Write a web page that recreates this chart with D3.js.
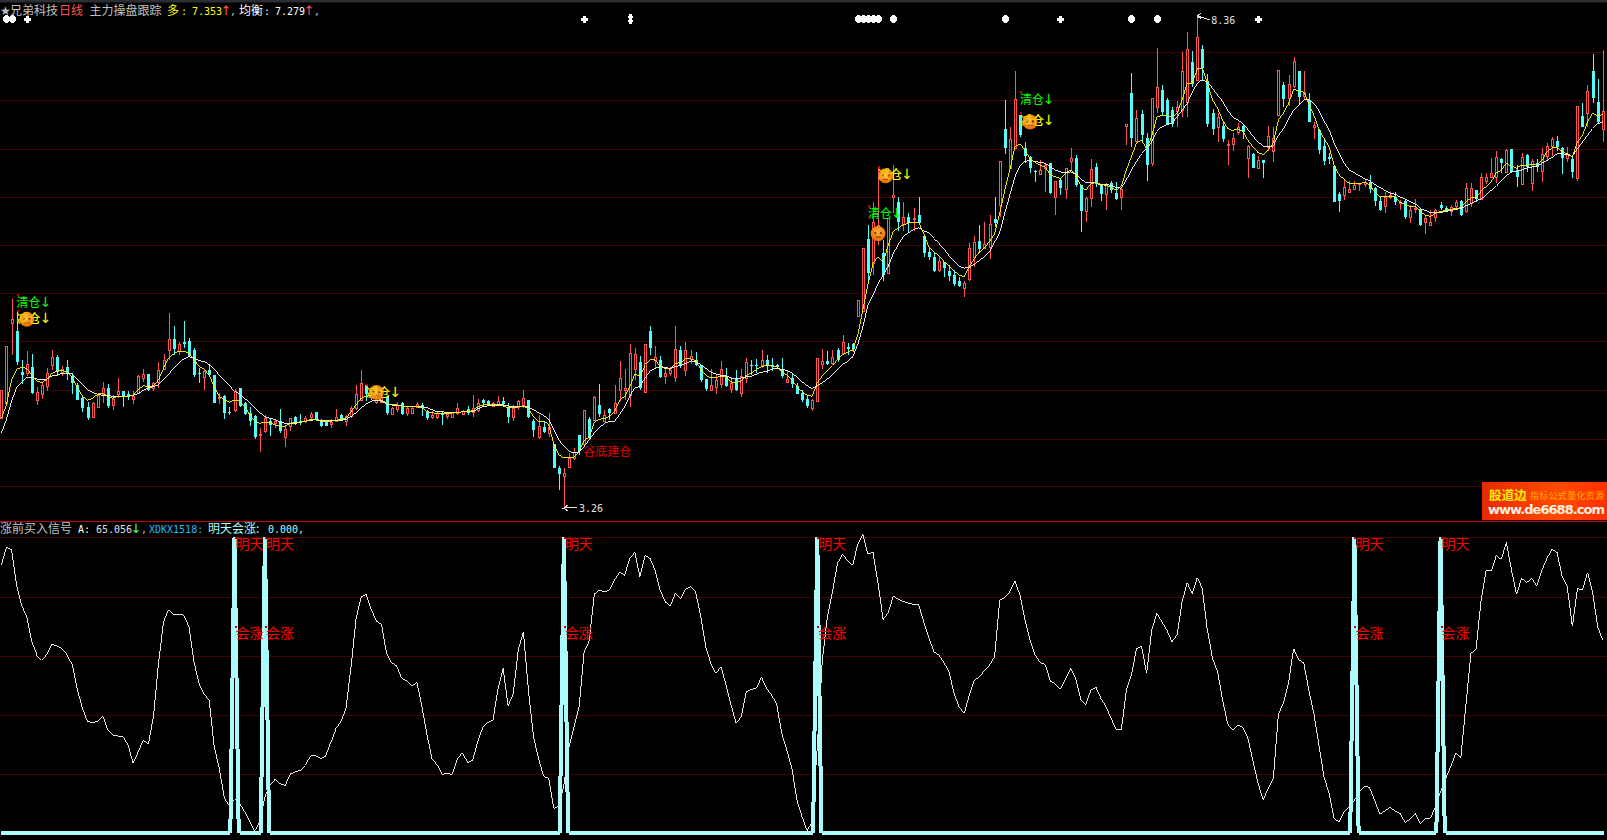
<!DOCTYPE html>
<html><head><meta charset="utf-8">
<style>html,body{margin:0;padding:0;background:#000;overflow:hidden}svg{display:block}</style>
<script src="https://cdn.jsdelivr.net/npm/d3@7"></script></head><body>
<script>
const highs=[4.48,4.93,5.42,5.29,4.79,4.88,4.85,4.51,4.56,4.70,4.89,4.84,4.72,4.79,4.65,4.55,4.42,4.35,4.35,4.44,
4.56,4.54,4.42,4.60,4.46,4.46,4.46,4.63,4.69,4.64,4.56,4.77,4.85,5.27,5.14,4.97,5.19,5.02,4.91,4.70,
4.69,4.73,4.63,4.44,4.42,4.30,4.49,4.49,4.35,4.30,4.22,4.08,4.22,4.18,4.17,4.28,4.10,4.18,4.21,4.23,
4.21,4.25,4.25,4.17,4.16,4.17,4.28,4.23,4.22,4.31,4.53,4.68,4.54,4.51,4.41,4.41,4.41,4.30,4.35,4.35,
4.31,4.30,4.35,4.34,4.27,4.26,4.25,4.25,4.24,4.25,4.34,4.27,4.31,4.42,4.38,4.38,4.37,4.35,4.41,4.40,
4.34,4.32,4.37,4.48,4.37,4.17,4.22,4.14,4.24,3.91,3.69,3.66,3.82,3.87,4.01,4.27,4.19,4.41,4.54,4.27,
4.29,4.53,4.78,4.69,4.95,4.91,4.83,4.95,5.14,4.93,4.83,4.70,4.71,5.14,4.93,4.97,4.89,4.87,4.74,4.59,
4.69,4.63,4.78,4.70,4.61,4.68,4.69,4.81,4.79,4.80,4.89,4.84,4.81,4.75,4.81,4.67,4.65,4.55,4.48,4.41,
4.38,4.81,4.90,4.88,4.89,4.91,5.05,4.96,4.96,5.41,5.95,6.19,6.43,6.78,6.03,6.26,6.81,6.48,6.43,6.31,
6.37,6.48,6.08,5.95,5.91,5.86,5.81,5.77,5.72,5.65,5.61,6.00,6.08,6.19,6.22,6.29,6.48,6.85,7.49,7.21,
7.79,7.33,7.05,6.91,6.76,6.86,6.83,6.83,6.65,6.67,6.78,6.99,6.92,6.60,6.48,6.87,6.83,6.62,6.63,6.65,
6.64,6.58,7.24,7.77,7.38,7.38,7.14,7.51,8.03,7.64,7.51,7.41,7.48,7.99,8.19,8.00,8.36,8.06,7.76,7.39,
7.35,7.26,7.07,7.14,7.25,7.23,7.02,6.94,6.91,6.86,7.22,7.21,7.80,7.67,7.75,7.93,7.79,7.79,7.56,7.26,
7.19,7.08,6.94,6.81,6.53,6.66,6.65,6.65,6.63,6.66,6.71,6.58,6.48,6.53,6.53,6.53,6.45,6.45,6.40,6.46,
6.37,6.29,6.34,6.36,6.43,6.39,6.40,6.45,6.45,6.63,6.63,6.55,6.73,6.73,6.89,6.96,6.88,6.98,6.98,6.81,
6.94,6.93,6.87,6.87,6.99,7.04,7.10,7.11,7.00,7.00,6.91,7.43,7.46,7.64,7.97,7.71,8.01];
const lows=[4.18,4.34,4.84,4.74,4.54,4.62,4.43,4.32,4.38,4.46,4.68,4.62,4.62,4.58,4.43,4.37,4.25,4.16,4.18,4.29,
4.34,4.29,4.27,4.39,4.30,4.37,4.33,4.44,4.56,4.46,4.46,4.50,4.69,4.79,4.84,4.84,4.91,4.82,4.61,4.55,
4.48,4.62,4.34,4.33,4.17,4.22,4.25,4.30,4.22,4.10,3.97,3.83,4.03,4.00,4.08,4.03,3.88,4.05,4.11,4.11,
4.13,4.17,4.15,4.09,4.10,4.08,4.15,4.15,4.10,4.18,4.27,4.37,4.36,4.37,4.33,4.34,4.22,4.22,4.25,4.22,
4.21,4.23,4.29,4.21,4.16,4.17,4.17,4.11,4.17,4.18,4.22,4.22,4.22,4.20,4.25,4.31,4.31,4.30,4.31,4.31,
4.13,4.15,4.27,4.29,4.18,3.99,3.97,4.03,3.99,3.66,3.44,3.26,3.68,3.75,3.80,3.90,3.96,4.15,4.20,4.15,
4.16,4.24,4.36,4.37,4.30,4.58,4.48,4.44,4.84,4.70,4.60,4.54,4.62,4.56,4.70,4.62,4.75,4.72,4.56,4.47,
4.47,4.43,4.50,4.51,4.44,4.47,4.40,4.55,4.63,4.65,4.70,4.65,4.67,4.69,4.60,4.56,4.50,4.43,4.35,4.29,
4.26,4.36,4.69,4.74,4.73,4.77,4.84,4.84,4.87,5.24,5.30,5.60,5.67,5.98,5.61,5.69,6.31,6.13,6.13,6.11,
6.13,6.21,5.86,5.83,5.70,5.70,5.65,5.61,5.56,5.54,5.44,5.61,5.75,5.90,5.94,5.84,6.17,6.27,6.93,6.77,
6.99,7.10,6.83,6.73,6.64,6.71,6.53,6.51,6.29,6.50,6.46,6.76,6.58,6.12,6.22,6.38,6.58,6.44,6.35,6.52,
6.45,6.35,7.02,7.00,7.04,7.05,6.65,6.80,7.35,7.33,7.24,7.21,7.21,7.31,7.31,7.62,7.69,7.69,7.21,7.12,
7.05,7.05,6.81,6.96,7.12,7.08,6.68,6.78,6.78,6.68,6.96,6.84,7.32,7.41,7.42,7.61,7.44,7.49,7.26,7.08,
6.93,6.81,6.82,6.43,6.32,6.45,6.52,6.55,6.54,6.58,6.52,6.39,6.33,6.31,6.46,6.40,6.35,6.25,6.21,6.31,
6.18,6.10,6.18,6.22,6.35,6.32,6.28,6.35,6.28,6.31,6.38,6.43,6.45,6.62,6.68,6.63,6.73,6.73,6.73,6.58,
6.62,6.74,6.54,6.74,6.64,6.86,6.91,6.96,6.72,6.84,6.68,6.65,7.21,7.21,7.46,7.25,7.05];
const opens=[4.18,4.34,5.17,5.09,4.66,4.65,4.71,4.37,4.43,4.52,4.73,4.82,4.66,4.71,4.62,4.53,4.39,4.30,4.20,4.30,
4.43,4.50,4.32,4.43,4.46,4.43,4.38,4.44,4.60,4.64,4.50,4.56,4.69,4.89,5.00,4.88,4.97,4.98,4.89,4.65,
4.61,4.68,4.63,4.39,4.41,4.25,4.27,4.50,4.34,4.24,4.21,4.01,4.05,4.15,4.13,4.15,3.99,4.10,4.19,4.15,
4.15,4.19,4.25,4.15,4.15,4.12,4.15,4.22,4.15,4.21,4.29,4.37,4.53,4.44,4.35,4.35,4.41,4.23,4.28,4.34,
4.24,4.24,4.30,4.32,4.25,4.19,4.19,4.24,4.21,4.20,4.24,4.23,4.28,4.25,4.27,4.37,4.36,4.31,4.33,4.36,
4.30,4.19,4.30,4.32,4.37,4.15,3.99,4.09,4.03,3.91,3.66,3.58,3.68,3.77,4.01,3.91,4.17,4.16,4.32,4.15,
4.28,4.24,4.48,4.48,4.42,4.69,4.77,4.45,5.09,4.79,4.79,4.62,4.65,4.61,4.89,4.68,4.80,4.79,4.73,4.59,
4.48,4.51,4.54,4.61,4.49,4.59,4.44,4.60,4.73,4.73,4.73,4.79,4.73,4.73,4.69,4.56,4.60,4.52,4.44,4.38,
4.29,4.36,4.75,4.78,4.76,4.89,4.86,4.92,4.95,5.24,5.30,6.04,5.79,6.03,5.90,5.69,6.48,6.43,6.20,6.27,
6.25,6.29,6.08,5.91,5.86,5.72,5.80,5.71,5.67,5.61,5.53,5.63,5.86,6.02,5.95,5.96,6.25,6.40,7.19,6.78,
6.99,7.33,6.99,6.90,6.75,6.72,6.78,6.83,6.48,6.66,6.56,6.85,6.89,6.60,6.33,6.47,6.79,6.59,6.51,6.63,
6.52,6.48,7.22,7.56,7.06,7.34,7.09,6.83,7.41,7.59,7.49,7.38,7.37,7.38,7.47,7.88,7.70,8.02,7.69,7.35,
7.21,7.22,7.02,7.03,7.15,7.22,6.89,6.93,6.78,6.86,7.00,6.96,7.33,7.64,7.51,7.63,7.79,7.53,7.49,7.21,
7.18,7.01,6.90,6.80,6.51,6.50,6.53,6.56,6.62,6.61,6.64,6.57,6.44,6.39,6.48,6.48,6.42,6.44,6.27,6.36,
6.36,6.22,6.19,6.27,6.40,6.37,6.33,6.39,6.44,6.33,6.42,6.55,6.46,6.65,6.69,6.69,6.87,6.74,6.98,6.76,
6.62,6.92,6.63,6.83,6.75,6.91,7.01,7.06,6.99,6.89,6.87,6.68,7.32,7.35,7.79,7.47,7.19];
const closes=[4.48,4.93,5.21,4.77,4.63,4.75,4.44,4.45,4.53,4.65,4.82,4.66,4.69,4.65,4.55,4.37,4.29,4.18,4.34,4.42,
4.50,4.31,4.38,4.47,4.41,4.41,4.41,4.62,4.64,4.48,4.55,4.68,4.79,5.00,4.90,4.95,4.95,4.83,4.63,4.64,
4.67,4.63,4.34,4.40,4.24,4.24,4.46,4.31,4.23,4.15,3.99,4.02,4.18,4.11,4.15,4.05,4.07,4.18,4.13,4.13,
4.18,4.23,4.16,4.10,4.10,4.14,4.19,4.16,4.21,4.29,4.43,4.55,4.43,4.39,4.37,4.39,4.24,4.29,4.32,4.23,
4.29,4.29,4.33,4.29,4.18,4.22,4.24,4.22,4.23,4.24,4.29,4.26,4.24,4.29,4.34,4.34,4.33,4.34,4.36,4.33,
4.19,4.29,4.36,4.39,4.19,4.06,4.10,4.04,4.09,3.66,3.60,3.61,3.77,3.83,3.84,4.27,3.98,4.40,4.23,4.22,
4.24,4.34,4.60,4.50,4.86,4.85,4.50,4.95,4.91,4.82,4.61,4.65,4.68,4.90,4.73,4.89,4.83,4.74,4.58,4.49,
4.53,4.58,4.69,4.52,4.55,4.48,4.62,4.77,4.72,4.72,4.79,4.73,4.71,4.71,4.62,4.59,4.54,4.43,4.37,4.31,
4.37,4.81,4.78,4.75,4.82,4.79,4.97,4.90,4.90,5.41,5.95,5.69,6.22,6.19,5.67,6.26,6.50,6.22,6.27,6.21,
6.26,6.21,5.90,5.86,5.71,5.82,5.74,5.66,5.58,5.56,5.59,5.95,6.01,5.94,5.99,6.20,6.21,6.85,6.99,7.08,
7.50,7.12,6.91,6.78,6.74,6.76,6.81,6.52,6.65,6.57,6.78,6.89,6.60,6.33,6.47,6.77,6.62,6.51,6.62,6.55,
6.46,6.56,7.24,7.09,7.30,7.12,6.81,7.51,7.62,7.36,7.24,7.24,7.41,7.79,8.02,7.65,8.14,7.82,7.24,7.19,
7.31,7.08,7.03,7.09,7.21,7.15,7.01,6.78,6.86,6.83,7.11,7.09,7.80,7.50,7.65,7.89,7.52,7.57,7.26,7.23,
6.97,6.85,6.87,6.43,6.44,6.58,6.56,6.60,6.63,6.64,6.56,6.44,6.35,6.48,6.50,6.43,6.43,6.27,6.35,6.37,
6.19,6.26,6.22,6.35,6.37,6.33,6.38,6.43,6.29,6.57,6.57,6.46,6.69,6.69,6.73,6.90,6.83,6.97,6.74,6.69,
6.90,6.79,6.85,6.79,6.93,7.01,7.08,7.00,6.89,6.93,6.74,7.43,7.21,7.58,7.51,7.26,7.37];
const maFast=[4.18,4.32,4.58,4.69,4.71,4.70,4.63,4.57,4.55,4.59,4.65,4.67,4.68,4.66,4.60,4.50,4.41,4.37,4.39,4.43,
4.44,4.41,4.39,4.41,4.41,4.41,4.42,4.48,4.52,4.51,4.52,4.58,4.70,4.81,4.85,4.88,4.88,4.86,4.79,4.72,
4.69,4.63,4.51,4.41,4.37,4.35,4.37,4.36,4.30,4.22,4.15,4.13,4.14,4.14,4.11,4.10,4.10,4.13,4.14,4.14,
4.15,4.17,4.17,4.15,4.15,4.15,4.16,4.17,4.18,4.25,4.32,4.39,4.41,4.42,4.40,4.37,4.34,4.32,4.32,4.31,
4.30,4.30,4.30,4.29,4.25,4.24,4.23,4.23,4.23,4.24,4.24,4.25,4.25,4.26,4.30,4.32,4.32,4.33,4.32,4.31,
4.29,4.29,4.30,4.31,4.28,4.20,4.15,4.15,4.12,3.91,3.80,3.77,3.77,3.78,3.84,3.95,3.99,4.14,4.17,4.18,
4.20,4.25,4.37,4.41,4.51,4.64,4.62,4.74,4.79,4.79,4.72,4.70,4.69,4.75,4.76,4.80,4.80,4.78,4.69,4.63,
4.60,4.60,4.62,4.61,4.56,4.55,4.57,4.63,4.65,4.69,4.72,4.73,4.73,4.72,4.67,4.63,4.58,4.51,4.46,4.42,
4.41,4.55,4.62,4.68,4.73,4.79,4.84,4.87,4.89,5.05,5.31,5.57,5.79,5.86,5.80,5.98,6.12,6.16,6.19,6.21,
6.22,6.22,6.10,5.96,5.91,5.87,5.81,5.76,5.71,5.67,5.65,5.76,5.84,5.91,5.95,6.02,6.10,6.31,6.55,6.76,
7.00,7.03,6.97,6.87,6.84,6.81,6.79,6.71,6.69,6.67,6.73,6.76,6.71,6.60,6.55,6.62,6.63,6.61,6.60,6.58,
6.55,6.59,6.76,6.90,7.04,7.07,6.98,7.11,7.31,7.33,7.33,7.31,7.35,7.49,7.66,7.66,7.81,7.82,7.66,7.49,
7.40,7.28,7.19,7.17,7.19,7.16,7.07,7.00,6.94,6.92,6.97,7.04,7.28,7.35,7.45,7.60,7.58,7.57,7.45,7.33,
7.18,7.09,7.00,6.81,6.71,6.66,6.62,6.62,6.62,6.63,6.61,6.53,6.48,6.48,6.49,6.48,6.43,6.40,6.38,6.38,
6.33,6.29,6.28,6.31,6.33,6.34,6.35,6.36,6.37,6.43,6.47,6.47,6.54,6.59,6.64,6.73,6.76,6.83,6.80,6.78,
6.81,6.81,6.82,6.81,6.86,6.95,6.99,6.99,6.95,6.93,6.90,7.05,7.12,7.26,7.35,7.32,7.34];
const maSlow=[4.03,4.17,4.36,4.50,4.56,4.61,4.61,4.59,4.58,4.59,4.62,4.63,4.65,4.65,4.64,4.58,4.53,4.48,4.45,4.43,
4.42,4.42,4.41,4.41,4.41,4.41,4.42,4.44,4.47,4.50,4.51,4.53,4.58,4.64,4.70,4.75,4.80,4.82,4.81,4.78,
4.77,4.74,4.69,4.63,4.58,4.52,4.46,4.43,4.39,4.34,4.29,4.24,4.20,4.18,4.17,4.14,4.13,4.13,4.13,4.14,
4.15,4.16,4.17,4.16,4.16,4.16,4.16,4.16,4.17,4.20,4.24,4.29,4.33,4.36,4.37,4.36,4.33,4.32,4.31,4.31,
4.30,4.30,4.30,4.30,4.29,4.27,4.25,4.25,4.24,4.24,4.24,4.25,4.25,4.25,4.28,4.30,4.31,4.31,4.32,4.32,
4.31,4.30,4.30,4.31,4.30,4.27,4.24,4.21,4.17,4.06,3.96,3.89,3.84,3.82,3.83,3.89,3.96,4.03,4.08,4.13,
4.15,4.15,4.22,4.30,4.41,4.50,4.51,4.60,4.67,4.70,4.72,4.71,4.70,4.72,4.73,4.75,4.78,4.77,4.74,4.70,
4.66,4.64,4.63,4.62,4.60,4.59,4.60,4.61,4.62,4.64,4.66,4.67,4.69,4.70,4.69,4.68,4.65,4.61,4.56,4.52,
4.49,4.52,4.55,4.59,4.63,4.69,4.74,4.77,4.82,4.95,5.13,5.36,5.46,5.58,5.67,5.76,5.89,5.99,6.07,6.11,
6.14,6.16,6.13,6.11,6.05,6.00,5.94,5.87,5.81,5.76,5.74,5.75,5.78,5.82,5.86,5.91,6.01,6.11,6.31,6.50,
6.69,6.80,6.85,6.86,6.85,6.84,6.83,6.79,6.76,6.74,6.73,6.74,6.72,6.67,6.63,6.63,6.63,6.60,6.61,6.60,
6.58,6.57,6.66,6.76,6.85,6.93,6.98,7.05,7.16,7.21,7.23,7.25,7.31,7.38,7.45,7.57,7.66,7.70,7.67,7.61,
7.54,7.47,7.38,7.31,7.28,7.24,7.18,7.11,7.05,7.01,7.00,7.01,7.12,7.19,7.29,7.38,7.43,7.49,7.49,7.45,
7.38,7.27,7.18,7.04,6.93,6.83,6.76,6.73,6.70,6.67,6.65,6.61,6.58,6.55,6.52,6.51,6.48,6.46,6.43,6.41,
6.36,6.34,6.32,6.32,6.32,6.33,6.34,6.35,6.36,6.39,6.41,6.44,6.46,6.50,6.55,6.59,6.65,6.70,6.74,6.75,
6.76,6.78,6.79,6.80,6.83,6.86,6.89,6.93,6.93,6.92,6.90,6.98,7.05,7.12,7.19,7.24,7.26];
const signalA=[90.5,96.5,95.8,83.7,77,73,64.6,60.3,58.4,60.4,63.8,63.1,62.3,60.1,56.7,48.3,42.1,37.6,37.4,37.6,
39.6,34.8,33.1,32.8,32.5,29.7,23.5,27.4,31.4,29.9,39.3,57.3,71.4,75.5,73.8,73.8,73.6,69.7,57.8,50.5,
46.9,44.9,29.1,21.8,11.7,9.1,11.3,10,7.2,3.8,0.7,3.8,12.2,16.2,18.1,16.7,16,19.9,20.7,21.2,
22.9,26.1,26,25.2,26,30.8,35.3,37.6,42.1,56.2,72.5,79.8,80.6,75.5,71.6,70.5,60.7,57.5,56.5,52.2,
51.4,49.7,50.9,42.6,33.1,24.9,23,19.8,20.1,19.8,25.2,27.1,23.8,24.6,30.8,35.7,37.4,38.1,48.8,55.6,
42.9,47.1,61.8,68,48.3,32.5,25.2,19.2,18.4,8.3,9.1,16.2,29.1,35.9,42.6,61.2,64.9,80.7,82,81.5,
82,85.4,88.2,87.1,92.8,94.8,86.6,93.7,92.8,88.8,82,78.1,76.7,80.9,79.2,82.6,83.4,81.5,73.1,62.9,
57.3,53.9,56.2,50,43.2,37,39.3,47.7,48.5,49,52.6,48.8,46.6,43.4,33.6,28,21.8,11.1,5.5,0.8,
3.8,29.1,58.4,73.1,81.5,91.1,94.1,92,90.5,97.6,100.9,94.2,94.8,84.3,72.1,74.4,80,78.9,78.2,77.6,
77.3,77.2,71.4,66.3,61.2,60.1,57.5,54.5,47.1,42.6,40.4,46.6,51.6,52.8,54.8,56.7,59.5,78.7,79.6,81.5,
85.2,80.4,71.9,65.2,60.1,57.5,56.9,51.3,50.3,48.6,52.2,55.6,52.2,45.1,43.4,48.3,49.2,45.4,42.6,38.7,
34.8,34.8,48.3,53.3,62.3,63.1,53.9,68.5,74.2,71.4,68.5,64.6,66.9,78.1,84.6,80.9,86.3,82.6,68.5,59,
54.5,44.9,36.8,34.8,36.5,35.7,31.9,24.1,16.7,11.3,15,18.4,40.1,44,50.5,62.3,58.6,57.5,48.3,40.4,
29.7,19,13.4,4.9,3.8,7.2,8.9,11.1,13.9,15.9,15.3,11.1,6.4,7.4,8.6,7.5,6.6,3.6,4.6,6.6,
3.2,4.9,4.9,8.9,13.9,18.4,22.4,26.9,25.5,43.2,60.7,62,78.7,88.8,88.5,93.7,92.4,98.2,88.8,80.7,
86,84.6,86,83.5,88.8,92.8,95.8,94.8,86.6,83.2,70,82.6,82,88,81.5,69.7,65.1];
const spikeDays=[46,52,111,161,267,284];
const gridPrices=[7.983,7.484,6.975,6.477,5.978,5.479,4.981,4.472,3.969,3.475];
const gridSignal=[100,79.7,59.9,39.8,19.8];
const plusDays=[5,115,209,248];
const dotDays=[1,2,169,170,171,172,173,176,198,223,228];
const tallDays=[124];
const sellFlags=[{t:"清仓",d:3,p:5.47,c:"#00ff00"},{t:"减仓",d:3,p:5.31,c:"#ffff00"},{t:"减仓",d:72,p:4.54,c:"#ffff00"},{t:"清仓",d:171,p:6.40,c:"#00ff00"},{t:"减仓",d:173,p:6.80,c:"#ffff00"},{t:"清仓",d:201,p:7.58,c:"#00ff00"},{t:"减仓",d:201,p:7.36,c:"#ffff00"}];
const faceSpots=[{d:5,p:5.21},{d:74,p:4.45},{d:174.5,p:6.70},{d:173,p:6.10},{d:203,p:7.26}];

const W=1607,H=840,FONT='"Noto Sans CJK SC","Noto Sans",sans-serif',MONO='"DejaVu Sans Mono",monospace',AR='"DejaVu Sans"';
const RED="#ff5454",CYAN="#54fcfc";
const svg=d3.select("body").append("svg").attr("width",W).attr("height",H).style("background","#000");
const defs=svg.append("defs");
const fg=defs.append("radialGradient").attr("id","face").attr("cx","50%").attr("cy","40%").attr("r","60%");
fg.append("stop").attr("offset","0%").attr("stop-color","#ffb040");
fg.append("stop").attr("offset","100%").attr("stop-color","#e86a00");
const lg=defs.append("linearGradient").attr("id","logo").attr("x1","0").attr("x2","1").attr("y1","0").attr("y2","0");
lg.append("stop").attr("offset","0%").attr("stop-color","#e82a00");
lg.append("stop").attr("offset","60%").attr("stop-color","#ff4a00");
lg.append("stop").attr("offset","100%").attr("stop-color","#ff3000");

const n=closes.length;
const x=d3.scaleLinear().domain([0,n-1]).range([1.4,1602.7]);
const yP=d3.scaleLinear().domain([3.26,8.36]).range([507,16]);
const yS=d3.scaleLinear().domain([0,100]).range([833,537]);
const px=i=>Math.round(x(i));
const crisp=g=>g.attr("shape-rendering","crispEdges");

svg.append("rect").attr("x",0).attr("y",0).attr("width",W).attr("height",2.5).attr("fill","#2b2f33");
const grid=crisp(svg.append("g")).attr("fill","#440000");
grid.selectAll(".p").data(gridPrices).join("rect").attr("class","p").attr("x",0).attr("width",W).attr("height",1).attr("y",d=>Math.round(yP(d)));
grid.selectAll(".s").data(gridSignal).join("rect").attr("class","s").attr("x",0).attr("width",W).attr("height",1).attr("y",d=>Math.round(yS(d)));
crisp(svg.append("rect")).attr("x",0).attr("y",521).attr("width",W).attr("height",1).attr("fill","#c80000");

const days=d3.range(n);
const candles=crisp(svg.append("g"));
candles.selectAll(".w").data(days).join("rect").attr("class","w").attr("x",px).attr("width",1)
 .attr("y",i=>Math.round(yP(highs[i]))).attr("height",i=>Math.max(1,Math.round(yP(lows[i]))-Math.round(yP(highs[i]))))
 .attr("fill",i=>closes[i]>opens[i]?RED:CYAN);
candles.selectAll(".b").data(days).join("rect").attr("class","b")
 .attr("x",i=>closes[i]>opens[i]?px(i)-0.5:px(i)-1)
 .attr("width",i=>closes[i]>opens[i]?2:3)
 .attr("y",i=>{const t=Math.round(yP(Math.max(opens[i],closes[i])));return closes[i]>opens[i]?t+0.5:t;})
 .attr("height",i=>{const t=Math.round(yP(Math.max(opens[i],closes[i]))),b=Math.round(yP(Math.min(opens[i],closes[i])));return Math.max(1,b-t);})
 .attr("fill",i=>closes[i]>opens[i]?"#000":CYAN)
 .attr("stroke",i=>closes[i]>opens[i]?RED:"none").attr("stroke-width",1);

const lineP=d3.line().x((d,i)=>x(i)).y(d=>yP(d));
svg.append("path").datum(maSlow).attr("d",lineP).attr("fill","none").attr("stroke","#fff").attr("stroke-width",0.9).attr("shape-rendering","crispEdges");
svg.append("path").datum(maFast).attr("d",lineP).attr("fill","none").attr("stroke","#ffff00").attr("stroke-width",0.9).attr("shape-rendering","crispEdges");

// event marks along the top row
const marks=crisp(svg.append("g")).attr("fill","#fff");
plusDays.forEach(i=>{const c=px(i);marks.append("rect").attr("x",c-3).attr("y",17.5).attr("width",7).attr("height",3);marks.append("rect").attr("x",c-1).attr("y",15.5).attr("width",3).attr("height",7);});
dotDays.forEach(i=>{const c=px(i);marks.append("rect").attr("x",c-3).attr("y",17).attr("width",7).attr("height",4);marks.append("rect").attr("x",c-2).attr("y",16).attr("width",5).attr("height",6);marks.append("rect").attr("x",c-1).attr("y",15).attr("width",3).attr("height",8);});
tallDays.forEach(i=>{const c=px(i);marks.append("rect").attr("x",c-1).attr("y",14).attr("width",3).attr("height",10);marks.append("rect").attr("x",c-2).attr("y",15.5).attr("width",5).attr("height",2);marks.append("rect").attr("x",c-2).attr("y",20).attr("width",5).attr("height",2);});

// sell flags
const flags=svg.append("g");
sellFlags.forEach(f=>{
  const fx=x(f.d),fy=yP(f.p);
  crisp(flags.append("rect")).attr("x",Math.round(fx)).attr("y",Math.round(fy)).attr("width",2).attr("height",2).attr("fill","#d00000");
  flags.append("text").attr("x",fx).attr("y",fy+13).attr("font-family",FONT).attr("font-size",12).attr("fill",f.c).text(f.t);
  flags.append("text").attr("x",fx+29).attr("y",fy+13).attr("font-family",AR).attr("font-size",14).attr("text-anchor","middle").attr("fill",f.c).text("↓");
});
// faces
const faces=svg.append("g");
faceSpots.forEach(f=>{
  const g=faces.append("g").attr("transform",`translate(${x(f.d)},${yP(f.p)})`);
  g.append("circle").attr("r",7.5).attr("fill","url(#face)");
  g.append("circle").attr("cx",-2.8).attr("cy",-0.5).attr("r",1.1).attr("fill","#6a2a00");
  g.append("circle").attr("cx",2.8).attr("cy",-0.5).attr("r",1.1).attr("fill","#6a2a00");
  g.append("rect").attr("x",-2.5).attr("y",3).attr("width",5).attr("height",1).attr("fill","#6a2a00");
});
// the yellow flag text shows partly through the face
sellFlags.filter(f=>f.t==="减仓").forEach(f=>{
  svg.append("text").attr("x",x(f.d)).attr("y",yP(f.p)+13).attr("font-family",FONT).attr("font-size",12).attr("fill",f.c).attr("opacity",0.55).text(f.t);
});

svg.append("text").attr("x",x(115)-1).attr("y",456).attr("font-family",FONT).attr("font-size",12).attr("fill","#e00000").text("谷底建仓");

// extreme labels
function extreme(i,val,dx,dy,label){
  const ax=x(i),ay=yP(val);
  svg.append("path").attr("d",`M${ax+13},${ay+dy} L${ax},${ay+(dy?0:1)} l4,-3 M${ax},${ay+(dy?0:1)} l4,3`).attr("stroke","#e8e8e8").attr("fill","none").attr("stroke-width",1).attr("shape-rendering","crispEdges");
  svg.append("text").attr("x",ax+dx).attr("y",ay+(dy||1)+4).attr("font-family",MONO).attr("font-size",10).attr("fill","#e0e0e0").text(label);
}
extreme(236,d3.max(highs),14,4,d3.max(highs).toFixed(2));
extreme(111,d3.min(lows),15,0,d3.min(lows).toFixed(2));

// lower pane
const lineS=d3.line().x((d,i)=>x(i)).y(d=>yS(d));
svg.append("path").datum(signalA).attr("d",lineS).attr("fill","none").attr("stroke","#fff").attr("stroke-width",0.9).attr("shape-rendering","crispEdges");
const buy=days.map(i=>spikeDays.includes(i)?100:0);
let sp="";
for(let i=0;i<n-1;i++){
  const y0=yS(buy[i]),y1=yS(buy[i+1]);
  if(y0===y1){sp+=`M${Math.round(x(i))},${Math.round(y0)-2}H${Math.round(x(i+1))+1}v4H${Math.round(x(i))}Z`;continue;}
  const peak=buy[i]>buy[i+1]?x(i):x(i+1), foot=buy[i]>buy[i+1]?x(i+1):x(i);
  const footX=peak+(foot-peak)*0.83, top=Math.min(y0,y1), bot=Math.max(y0,y1);
  for(let yy=top;yy<bot;yy++){
    const xx=Math.round(peak+(footX-peak)*(yy-top)/(bot-top));
    sp+=`M${xx-2},${yy}h4v1h-4Z`;
  }
}
crisp(svg.append("path")).attr("d",sp).attr("fill","#aafcfc");
// labels on spikes
spikeDays.forEach(i=>{
  const sx=x(i);
  crisp(svg.append("rect")).attr("x",Math.round(sx)).attr("y",537).attr("width",2).attr("height",2).attr("fill","#d00000");
  crisp(svg.append("rect")).attr("x",Math.round(sx)).attr("y",626).attr("width",2).attr("height",2).attr("fill","#d00000");
  svg.append("text").attr("x",sx+1).attr("y",549).attr("font-family",FONT).attr("font-size",14).attr("fill","#ff0000").text("明天");
  svg.append("text").attr("x",sx+1).attr("y",638).attr("font-family",FONT).attr("font-size",14).attr("fill","#ff0000").text("会涨");
});

// headers
function put(xp,yp,t,c,f,s,a){return svg.append("text").attr("x",xp).attr("y",yp).attr("font-family",f).attr("font-size",s).attr("fill",c).attr("text-anchor",a||"start").text(t);}
put(0,14.5,"★","#c0c0c0",AR,12);
put(10,14.5,"兄弟科技","#c0c0c0",FONT,12);
put(59,14.5,"日线","#ff5454",FONT,12);
put(89.5,14.5,"主力操盘跟踪","#c0c0c0",FONT,12);
put(167,14.5,"多","#ffff00",FONT,12);
put(181,14.5,":","#ffff00",MONO,10);
put(192,14.5,"7.353","#ffff00",MONO,10);
put(226,14.5,"↑","#ff5454",AR,13,"middle");
put(230,14.5,",","#c0c0c0",MONO,10);
put(239,14.5,"均衡","#ffffff",FONT,12);
put(264,14.5,":","#ffffff",MONO,10);
put(275,14.5,"7.279","#ffffff",MONO,10);
put(309,14.5,"↑","#ff5454",AR,13,"middle");
put(314,14.5,",","#c0c0c0",MONO,10);
put(0,532.5,"涨前买入信号","#c0c0c0",FONT,12);
put(78,532.5,"A:","#ffffff",MONO,10);
put(96,532.5,"65.056","#e0e0e0",MONO,10);
put(136,532.5,"↓","#54ff54",AR,13,"middle");
put(141,532.5,",","#c0c0c0",MONO,10);
put(149,532.5,"XDKX1518:","#20b8ff",MONO,10);
put(208,532.5,"明天会涨:","#aafcfc",FONT,12);
put(268,532.5,"0.000,","#aafcfc",MONO,10);

// logo
const logo=svg.append("g");
logo.append("rect").attr("x",1482).attr("y",482).attr("width",125).attr("height",38).attr("fill","url(#logo)");
logo.append("text").attr("x",1489).attr("y",499.5).attr("font-family",FONT).attr("font-weight",700).attr("font-size",12.5).attr("fill","#ffee00").text("股道边");
logo.append("text").attr("x",1530).attr("y",498.5).attr("font-family",FONT).attr("font-size",9).attr("fill","#ffb000").attr("textLength",74).text("指标公式量化资源");
logo.append("text").attr("x",1488).attr("y",513.5).attr("font-family",AR).attr("font-weight",700).attr("font-size",13).attr("fill","#fff0e0").attr("textLength",117).text("www.de6688.com");
</script></body></html>
